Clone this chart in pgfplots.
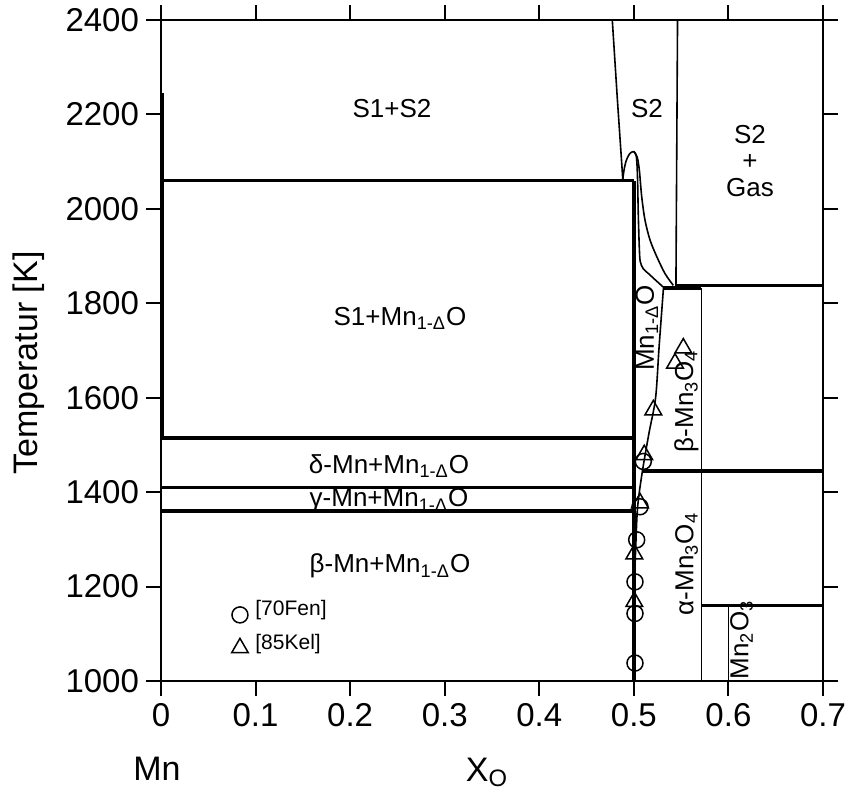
\documentclass[border=0pt]{standalone}
\usepackage{fontspec}
\setmainfont{Liberation Sans}
\usepackage{pgfplots}
\pgfplotsset{compat=1.18}
\newcommand{\lab}{\fontsize{13bp}{15bp}\selectfont}
\newcommand{\bigf}{\fontsize{17bp}{20bp}\selectfont}
\newcommand{\sm}{\fontsize{10.5bp}{12bp}\selectfont}
\newcommand{\MnO}{Mn\textsubscript{1-Δ}O}
\begin{document}
\begin{tikzpicture}
\path[use as bounding box] (-80.5bp,-57.5bp) rectangle (342.5bp,340.5bp);
\begin{axis}[
  scale only axis, width=331bp, height=330.5bp,
  xmin=0, xmax=0.7, ymin=1000, ymax=2400,
  xtick={0,0.1,0.2,0.3,0.4,0.5,0.6,0.7},
  xticklabels={0,0.1,0.2,0.3,0.4,0.5,0.6,0.7},
  ytick={1000,1200,1400,1600,1800,2000,2200,2400},
  yticklabels={1000,1200,1400,1600,1800,2000,2200,2400},
  /pgf/number format/assume math mode=true,
  tick align=outside, tick pos=both,
  xticklabel pos=left, yticklabel pos=left,
  major tick length=7.5bp,
  every tick/.style={black, line width=1bp},
  axis line style={line width=1bp},
  ticklabel style={font=\fontsize{16.5bp}{18bp}\selectfont},
  thk/.style={line width=1.75bp, black},
  thinl/.style={line width=0.8bp, black},
]
% thick invariant lines
\addplot[thk] coordinates {(0,2060) (0.5,2060)};
\addplot[thk] coordinates {(0,1515) (0.5,1515)};
\addplot[thk] coordinates {(0,1410) (0.5,1410)};
\addplot[thk] coordinates {(0,1360) (0.5,1360)};
\addplot[thk] coordinates {(0.5,2060) (0.5,1000)};
\addplot[thk] coordinates {(0.001,2245) (0.001,1515)};
\addplot[thk] coordinates {(0.531,1832) (0.5714,1832)};
\addplot[thk] coordinates {(0.544,1838) (0.7,1838)};
\addplot[thk] coordinates {(0.509,1445) (0.7,1445)};
\addplot[thk] coordinates {(0.5714,1160) (0.7,1160)};
% thin boundaries
\addplot[thinl] coordinates {(0.4772,2400) (0.4825,2234) (0.4883,2063)};
\addplot[thinl, smooth] coordinates {(0.4883,2063) (0.4896,2082) (0.4916,2100) (0.4941,2112) (0.4967,2119) (0.5002,2121) (0.5025,2112) (0.5033,2095) (0.5040,2057) (0.5047,1987) (0.5058,1916) (0.5068,1888) (0.5100,1873) (0.5160,1862) (0.5224,1850) (0.5313,1834)};
\addplot[thinl, smooth] coordinates {(0.5002,2121) (0.5035,2110) (0.5058,2082) (0.5083,2026) (0.5118,1976) (0.5171,1934) (0.5242,1899) (0.5329,1863) (0.5417,1838)};
\addplot[thinl, smooth] coordinates {(0.5005,1000) (0.5008,1200) (0.502,1284) (0.504,1369) (0.509,1444) (0.516,1525) (0.523,1600) (0.5267,1708) (0.5313,1832)};
\addplot[thinl] coordinates {(0.5462,2400) (0.5445,1838)};
\addplot[thinl] coordinates {(0.5714,1832) (0.5714,1000)};
\addplot[thinl] coordinates {(0.6,1160) (0.6,1000)};
% data points
\addplot[only marks, mark=o, mark size=4bp, mark options={line width=0.75bp, black}] coordinates {
(0.5012,1038) (0.5012,1143) (0.5012,1210) (0.503,1299) (0.5065,1369) (0.510,1465) (0.0835,1140)};
\addplot[only marks, mark=triangle, mark size=4.8bp, mark options={line width=0.75bp, black}] coordinates {
(0.5005,1168) (0.5005,1269) (0.5065,1377) (0.511,1479) (0.5206,1574) (0.5435,1673) (0.5523,1705) (0.0835,1070)};
% labels
\node[font=\sm, anchor=west, inner sep=0pt] at (axis cs:0.0994,1150) {[70Fen]};
\node[font=\sm, anchor=west, inner sep=0pt] at (axis cs:0.0994,1078) {[85Kel]};
\node[font=\lab, anchor=base] at (axis cs:0.2442,2194) {S1+S2};
\node[font=\lab, anchor=base] at (axis cs:0.5139,2194) {S2};
\node[font=\lab, inner sep=0pt] at (axis cs:0.6228,2157) {S2};
\node[font=\lab, inner sep=0pt] at (axis cs:0.6228,2099) {+};
\node[font=\lab, inner sep=0pt] at (axis cs:0.6228,2046) {Gas};
\node[font=\lab, anchor=base] at (axis cs:0.2527,1754) {S1+\MnO};
\node[font=\lab, anchor=base] at (axis cs:0.2411,1440) {δ-Mn+\MnO};
\node[font=\lab, anchor=base] at (axis cs:0.2411,1369) {γ-Mn+\MnO};
\node[font=\lab, anchor=base] at (axis cs:0.2421,1229) {β-Mn+\MnO};
\node[font=\lab, anchor=base, rotate=90] at (axis cs:0.5211,1748) {\MnO};
\node[font=\lab, anchor=base, rotate=90] at (axis cs:0.5626,1593) {β-Mn\textsubscript{3}O\textsubscript{4}};
\node[font=\lab, anchor=base, rotate=90] at (axis cs:0.5629,1248) {α-Mn\textsubscript{3}O\textsubscript{4}};
\node[font=\lab, anchor=base, rotate=90] at (axis cs:0.621,1087) {Mn\textsubscript{2}O\textsubscript{3}};
\end{axis}
\node[font=\bigf, anchor=base, rotate=90] at (-61.5bp,159bp) {Temperatur [K]};
\node[font=\bigf, anchor=base] at (-2bp,-49.5bp) {Mn};
\node[font=\bigf, anchor=base] at (163bp,-50bp) {X\textsubscript{O}};
\end{tikzpicture}
\end{document}
